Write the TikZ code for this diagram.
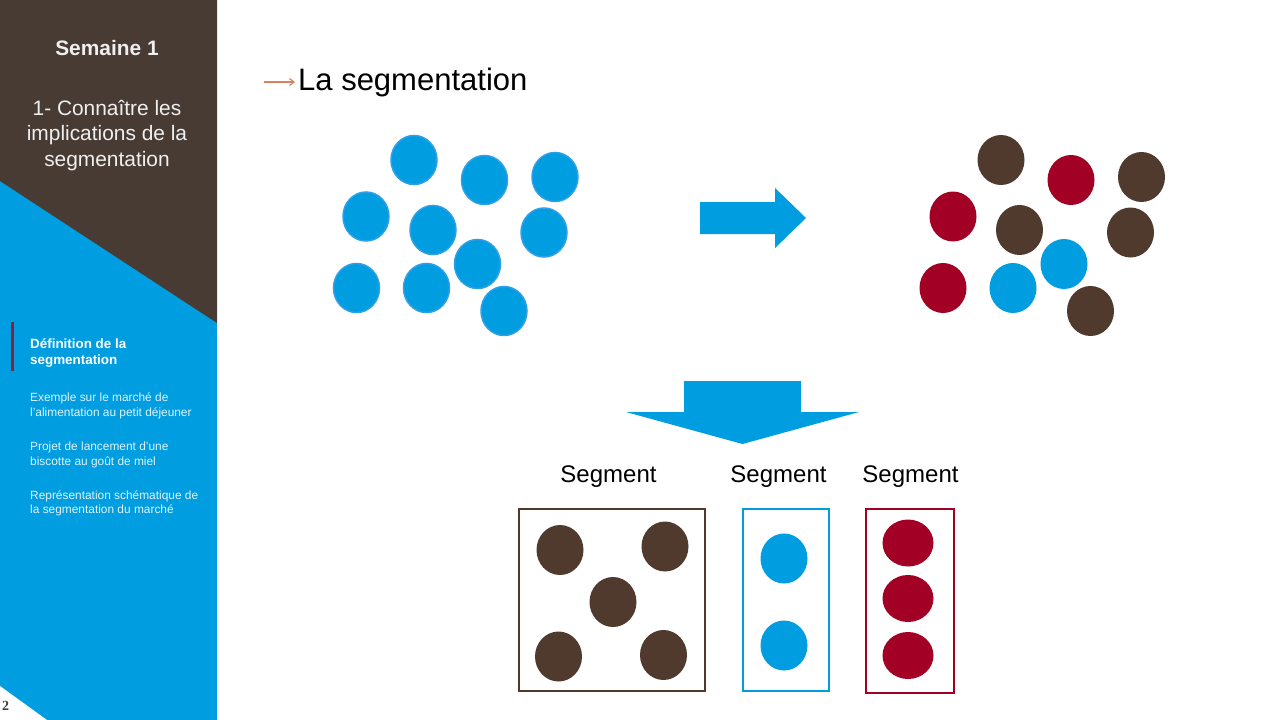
\documentclass[tikz,border=0pt]{standalone}
\usepackage{fontspec}
\setmainfont{Liberation Sans}
\newfontfamily\pagefont{Liberation Serif}
\usetikzlibrary{shapes.geometric}
\definecolor{cblue}{HTML}{009DE0}
\definecolor{cedge}{HTML}{2F9FE8}
\definecolor{cbrown}{HTML}{4F3A2D}
\definecolor{cdark}{HTML}{473B34}
\definecolor{cred}{HTML}{A30026}
\definecolor{cbar}{HTML}{8A1F3A}
\definecolor{corange}{HTML}{D9825F}
\definecolor{cside}{HTML}{DDF3FC}
\tikzset{
 x=1pt,y=-1pt,
 dotshape/.style={ellipse,minimum width=47pt,minimum height=50pt,inner sep=0pt},
 bdot/.style={dotshape,fill=cblue,draw=cedge,line width=1.5pt,minimum width=46pt,minimum height=49pt},
 pbdot/.style={dotshape,fill=cblue},
 ndot/.style={dotshape,fill=cbrown},
 rdot/.style={dotshape,fill=cred},
 seglabel/.style={font=\fontsize{24}{28}\selectfont,text=black,inner sep=0pt,anchor=base},
 sidehead/.style={align=center,text=white,inner sep=0pt},
 sideitem/.style={align=left,anchor=north west,text=cside,inner sep=0pt,font=\fontsize{11.9}{14.5}\selectfont},
 segbox/.style={line width=2pt,fill=white},
}
\begin{document}
\begin{tikzpicture}
\useasboundingbox (0,0) rectangle (1280,720);
\fill[white] (0,0) rectangle (1280,720);
% sidebar
\fill[cblue] (0,0) rectangle (217,720);
\fill[cdark] (0,0) -- (217,0) -- (217,323) -- (0,181) -- cycle;
\fill[white] (0,686) -- (47,720) -- (0,720) -- cycle;
\node[sidehead,font=\bfseries\fontsize{20.9}{24}\selectfont,text=white!92!cdark] (sem) at (107,48.5) {Semaine 1};
\node[sidehead,font=\fontsize{20.9}{25.5}\selectfont,text=white!92!cdark] (sub) at (107,135.5) {1- Connaître les\\implications de la\\segmentation};
\draw[cbar,line width=2.5pt] (12.5,322) -- (12.5,371);
\node[sideitem,font=\bfseries\fontsize{13.4}{16}\selectfont,text=white] (i1) at (30,338) {Définition de la\\segmentation};
\node[sideitem] (i2) at (30,393) {Exemple sur le marché de\\l'alimentation au petit déjeuner};
\node[sideitem] (i3) at (30,442) {Projet de lancement d'une\\biscotte au goût de miel};
\node[sideitem] (i4) at (30,490.5) {Représentation schématique de\\la segmentation du marché};
\node[font=\pagefont\bfseries\fontsize{14}{16}\selectfont,text=cdark,inner sep=0pt] (pg) at (5.5,706) {2};
% title
\coordinate (ta) at (264,82);
\coordinate (tb) at (294,82);
\draw[corange,line width=1.2pt] (ta) -- (tb);
\draw[corange,line width=1.2pt] (289.5,78.5) -- (tb) -- (289.5,85.5);
\node[anchor=base west,inner sep=0pt,font=\fontsize{31}{36}\selectfont,text=black] (title) at (298,90) {La segmentation};
% top-left
\foreach \n/\x/\y in {a/414/160,b/484.5/180,c/555/177,d/366/216.5,e/433/230,f/544/232.5,g/477.5/264,h/356.5/288,i/426.5/288,j/504/311}
  \node[bdot] (l\n) at (\x,\y) {};
% top-right
\node[ndot] (ra) at (1001,160) {};
\node[rdot] (rb) at (1071,180) {};
\node[ndot] (rc) at (1141.5,177) {};
\node[rdot] (rd) at (953,216.5) {};
\node[ndot] (re) at (1019.5,230) {};
\node[ndot] (rf) at (1130.5,232.5) {};
\node[pbdot] (rg) at (1064,264) {};
\node[rdot] (rh) at (943,288) {};
\node[pbdot] (ri) at (1013,288) {};
\node[ndot] (rj) at (1090.5,311) {};
% arrows
\fill[cblue] (700,202) -- (775,202) -- (775,188) -- (806,218) -- (775,248) -- (775,234) -- (700,234) -- cycle;
\fill[cblue] (684,381) -- (801,381) -- (801,412) -- (859,412) -- (742.5,444) -- (626,412) -- (684,412) -- cycle;
% labels
\node[seglabel] (s1) at (608.5,482) {Segment};
\node[seglabel] (s2) at (778.5,482) {Segment};
\node[seglabel] (s3) at (910.5,482) {Segment};
% boxes
\draw[segbox,draw=cbrown] (518.5,508.5) rectangle (704.5,691);
\draw[segbox,draw=cblue] (742.5,508.5) rectangle (828.5,691);
\draw[segbox,draw=cred] (866,508.5) rectangle (953.5,693);
\node[ndot] (n1) at (560,550) {};
\node[ndot] (n2) at (665,546.5) {};
\node[ndot] (n3) at (613,602) {};
\node[ndot] (n4) at (558.5,656.5) {};
\node[ndot] (n5) at (663.5,655) {};
\node[pbdot] (m1) at (784,558.5) {};
\node[pbdot] (m2) at (784,645.5) {};
\node[rdot,minimum width=51pt,minimum height=47pt] (o1) at (908,543) {};
\node[rdot,minimum width=51pt,minimum height=47pt] (o2) at (908,598.5) {};
\node[rdot,minimum width=51pt,minimum height=47pt] (o3) at (908,655.5) {};
\end{tikzpicture}
\end{document}
